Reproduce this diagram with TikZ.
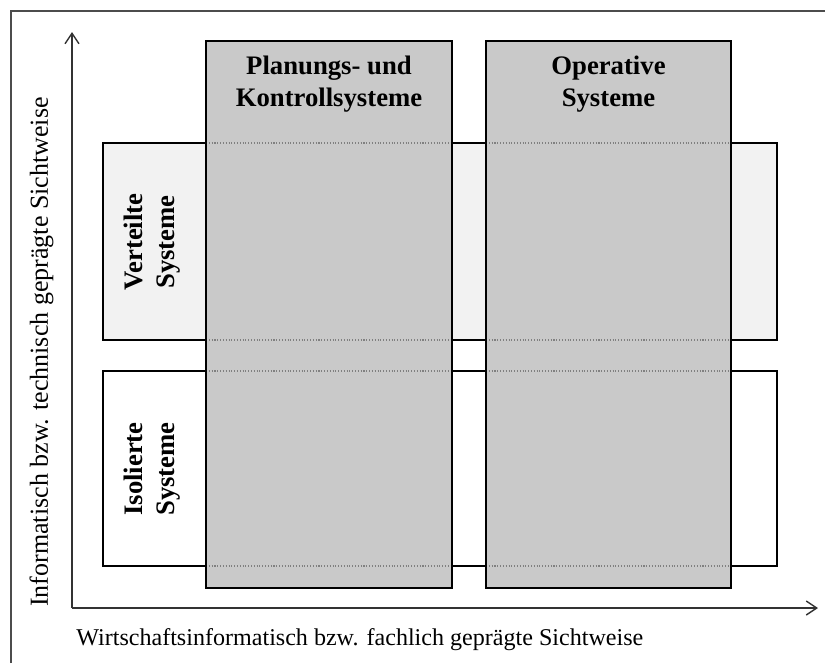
\documentclass[tikz,border=0pt]{standalone}
\usepackage{fontspec}
\setmainfont{Liberation Serif}
\usetikzlibrary{arrows.meta}

\tikzset{
    rowbox/.style={draw, line width=1.6pt, inner sep=0pt, outer sep=0pt},
    colbox/.style={draw, line width=1.6pt, fill=black!21, inner sep=0pt, outer sep=0pt},
    gridline/.style={black!50, densely dotted, line width=0.6pt},
    boxtitle/.style={font=\fontsize{15.2}{18}\selectfont\bfseries, align=center, inner sep=0pt},
    axislabel/.style={font=\fontsize{13.7}{16}\selectfont, inner sep=0pt}
}

\begin{document}
\begin{tikzpicture}[x=0.02cm, y=-0.02cm, >={Straight Barb[length=6pt,width=8pt]}]
\useasboundingbox (0,0) rectangle (825,663);

% frame
\draw[black!70, line width=0.9pt] (11,663) -- (11,11) -- (825,11);

% axes
\coordinate (origin) at (72,608);
\coordinate (ytip) at (72,32);
\coordinate (xtip) at (818,608);
\draw[black!80, line width=0.8pt,->] (origin) -- (ytip);
\draw[black!80, line width=0.8pt,->] (origin) -- (xtip);
\node[axislabel, anchor=base west] (xlab) at (76,645) {Wirtschaftsinformatisch bzw. fachlich geprägte Sichtweise};
\node[axislabel, font=\fontsize{14.8}{17}\selectfont, rotate=90, anchor=base] (ylab) at (48,352) {Informatisch bzw. technisch geprägte Sichtweise};

% rows
\node[rowbox, fill=black!5, minimum width=13.48cm, minimum height=3.94cm] (verteilt) at (440,241.5) {};
\node[rowbox, fill=white, minimum width=13.48cm, minimum height=3.90cm] (isoliert) at (440,468.5) {};

% columns
\node[colbox, minimum width=4.92cm, minimum height=10.94cm] (planung) at (329,314.5) {};
\node[colbox, minimum width=4.90cm, minimum height=10.94cm] (operativ) at (608.5,314.5) {};

% row borders seen through the columns
\foreach \col in {planung, operativ}
  \foreach \rw/\sd in {verteilt/north, verteilt/south, isoliert/north, isoliert/south}
    \draw[gridline] (\col.west |- \rw.\sd) -- (\col.east |- \rw.\sd);
\draw[line width=1.6pt] (planung.north west) rectangle (planung.south east);
\draw[line width=1.6pt] (operativ.north west) rectangle (operativ.south east);

% titles
\node[boxtitle, anchor=north] (planungtxt) at (planung.north |- 0,56) {Planungs- und\\Kontrollsysteme};
\node[boxtitle, anchor=north] (operativtxt) at (operativ.north |- 0,56) {Operative\\Systeme};
\node[boxtitle, rotate=90] (verteilttxt) at (152,242) {Verteilte\\Systeme};
\node[boxtitle, rotate=90] (isolierttxt) at (152,469) {Isolierte\\Systeme};

\end{tikzpicture}
\end{document}
